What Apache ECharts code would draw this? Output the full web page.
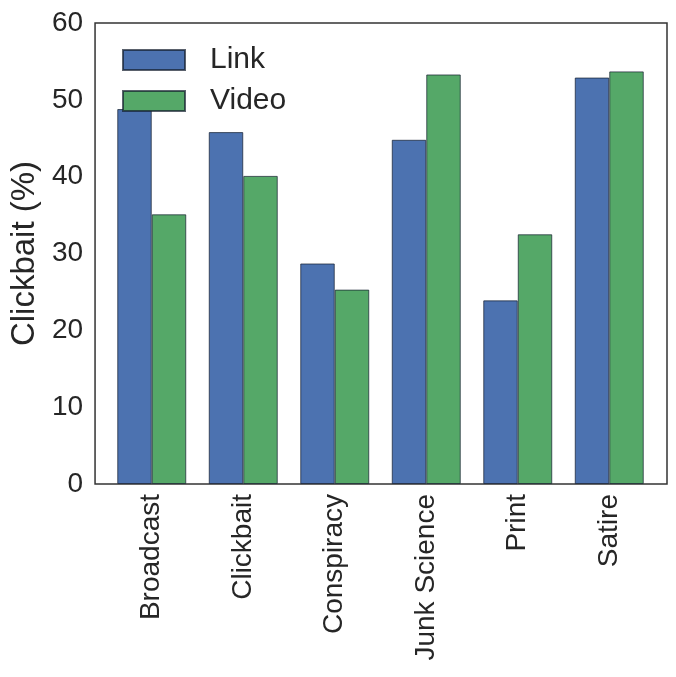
<!DOCTYPE html>
<html>
<head>
<meta charset="utf-8">
<script src="https://cdn.jsdelivr.net/npm/echarts@6/dist/echarts.min.js"></script>
<style>
  html, body { margin: 0; padding: 0; background: #fff; }
  #chart { width: 676px; height: 677px; }
</style>
</head>
<body>
<div id="chart"></div>
<script>
// data
const categories = ['Broadcast', 'Clickbait', 'Conspiracy', 'Junk Science', 'Print', 'Satire']
const linkValues = [48.8, 45.8, 28.7, 44.8, 23.9, 52.9]
const videoValues = [35.1, 40.1, 25.3, 53.3, 32.5, 53.7]
const yTicks = [0, 10, 20, 30, 40, 50, 60]

const font = '"Liberation Sans", Arial, sans-serif'
const textColor = '#262626'

const chart = echarts.init(document.getElementById('chart'))

const option = {
  animation: false,
  textStyle: { fontFamily: font },
  legend: {
    orient: 'vertical',
    left: 117,
    top: 40,
    itemWidth: 62,
    itemHeight: 20,
    itemGap: 11,
    icon: 'rect',
    textStyle: { fontSize: 30, color: textColor, fontFamily: font, padding: [0, 0, 0, 20] },
    data: ['Link', 'Video']
  },
  grid: [
    // frame + y axis
    { left: 94, right: 9, top: 23, bottom: 193, show: true, borderColor: '#333', borderWidth: 1.5, backgroundColor: 'transparent' },
    // bars (padded inside the frame)
    { left: 106, right: 21, top: 23, bottom: 193 }
  ],
  xAxis: [
    { gridIndex: 0, type: 'category', data: categories, show: false },
    {
      gridIndex: 1,
      type: 'category',
      data: categories,
      axisLine: { show: false },
      axisTick: { show: false },
      axisLabel: { rotate: 90, fontSize: 28, color: textColor, margin: 10, fontFamily: font, interval: 0 }
    }
  ],
  yAxis: [
    {
      gridIndex: 0,
      type: 'value',
      min: yTicks[0],
      max: yTicks[yTicks.length - 1],
      interval: 10,
      name: 'Clickbait (%)',
      nameLocation: 'middle',
      nameGap: 51,
      nameTextStyle: { fontSize: 33, color: textColor, fontFamily: font },
      axisLine: { show: false },
      axisTick: { show: false },
      splitLine: { show: false },
      axisLabel: { fontSize: 28, color: textColor, margin: 12, fontFamily: font }
    },
    { gridIndex: 1, type: 'value', min: 0, max: 60, show: false, splitLine: { show: false } }
  ],
  series: [
    {
      name: 'Link',
      type: 'bar',
      xAxisIndex: 1,
      yAxisIndex: 1,
      data: linkValues,
      barWidth: 34.5,
      barGap: '0%',
      itemStyle: { color: '#4C72B0', borderColor: 'rgba(20,30,45,0.7)', borderWidth: 1 }
    },
    {
      name: 'Video',
      type: 'bar',
      xAxisIndex: 1,
      yAxisIndex: 1,
      data: videoValues,
      barWidth: 34.5,
      barGap: '0%',
      itemStyle: { color: '#55A868', borderColor: 'rgba(20,30,45,0.7)', borderWidth: 1 }
    }
  ]
}

chart.setOption(option)
</script>
</body>
</html>
